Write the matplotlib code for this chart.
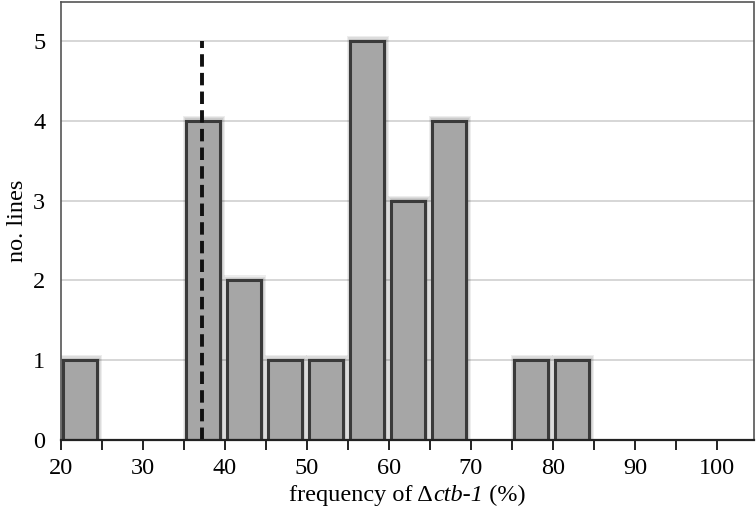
import matplotlib
matplotlib.use("Agg")
import matplotlib.pyplot as plt
from matplotlib.offsetbox import TextArea, HPacker, AnchoredOffsetbox
import numpy as np

bin_left = [20, 35, 40, 45, 50, 55, 60, 65, 75, 80]
counts = [1, 4, 2, 1, 1, 5, 3, 4, 1, 1]
bin_width = 5
dashed_x = 37.2
dashed_top = 5
x_ticks = [20, 30, 40, 50, 60, 70, 80, 90, 100]
y_ticks = [0, 1, 2, 3, 4, 5]

plt.rcParams['font.family'] = ['Liberation Serif', 'DejaVu Serif']

fig = plt.figure(figsize=(7.56, 5.18), dpi=100)
ax = fig.add_axes([60.7/756, 78/518, (754-60.7)/756, (440-2)/518])

centers = np.array(bin_left) + 2.3
bw = 4.15
# soft shadow layers
for d in [1.6, 1.2, 0.8, 0.4]:
    ax.bar(centers + 0.15, np.array(counts) + d*0.04, width=bw + d*0.6, bottom=0,
           color='#000000', alpha=0.07, linewidth=0, zorder=2)
ax.bar(centers, counts, width=bw, color='#a6a6a6', edgecolor='#3a3a3a', linewidth=2.2, zorder=3)

ax.plot([dashed_x, dashed_x], [0, dashed_top], color='#111111', linestyle=(0, (3.2, 1.6)), linewidth=2.8, zorder=4)

ax.set_xlim(20, 104.5)
ax.set_ylim(0, 5.49)
ax.set_xticks(x_ticks)
ax.set_xticks(np.arange(25, 105, 10), minor=True)
ax.set_yticks(y_ticks)
ax.yaxis.grid(True, color='#d0d0d0', linewidth=1.2, zorder=0)
ax.set_axisbelow(True)

ax.tick_params(axis='x', which='both', direction='out', length=7, width=1.4, color='#222222',
               labelsize=17.5, pad=6)
ax.tick_params(axis='y', length=0, labelsize=17.5, pad=11)

for s in ['left', 'top', 'right']:
    ax.spines[s].set_linestyle((0, (1, 1)))
    ax.spines[s].set_color('#555555')
    ax.spines[s].set_linewidth(1.2)
ax.spines['bottom'].set_color('#222222')
ax.spines['bottom'].set_linewidth(1.6)
ax.spines['bottom'].set_zorder(5)

ax.set_ylabel('no. lines', fontsize=17.5, labelpad=4)

fs = 17.5
parts = [TextArea('frequency of \u0394', textprops=dict(fontsize=fs)),
         TextArea('ctb-1', textprops=dict(fontsize=fs, style='italic')),
         TextArea(' (%)', textprops=dict(fontsize=fs))]
box = HPacker(children=parts, align='baseline', pad=0, sep=0)
anch = AnchoredOffsetbox(loc='center', child=box, frameon=False,
                         bbox_to_anchor=(0.5 * (60.7 + 754) / 756, 1 - 495 / 518),
                         bbox_transform=fig.transFigure, borderpad=0, pad=0)
fig.add_artist(anch)

fig.savefig('out.png', dpi=100)
